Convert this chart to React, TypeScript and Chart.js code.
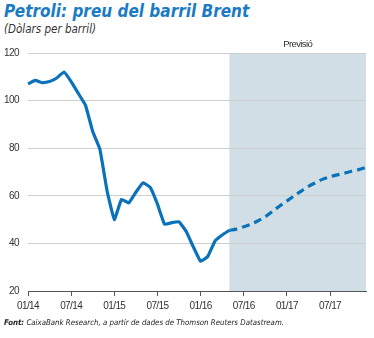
import React, { useEffect, useRef } from "react";
import { Chart, registerables } from "chart.js";

Chart.register(...registerables);

const months = [
  "01/14", "02/14", "03/14", "04/14", "05/14", "06/14", "07/14", "08/14", "09/14", "10/14", "11/14", "12/14",
  "01/15", "02/15", "03/15", "04/15", "05/15", "06/15", "07/15", "08/15", "09/15", "10/15", "11/15", "12/15",
  "01/16", "02/16", "03/16", "04/16", "05/16", "06/16", "07/16", "08/16", "09/16", "10/16", "11/16", "12/16",
  "01/17", "02/17", "03/17", "04/17", "05/17", "06/17", "07/17", "08/17", "09/17", "10/17", "11/17", "12/17",
];

const actualValues = [
  107, 108.5, 107.5, 108, 109.5, 112, 108, 103, 98, 87, 79.5, 62,
  50, 58.5, 57, 61.5, 65.5, 63.5, 56.5, 48, 48.7, 49, 45, 38.5,
  32.5, 34.5, 41, 43.5, 45.5,
];

const forecastStart = "05/16";
const forecastValues = [
  45.5, 46, 47, 48, 49.5, 51.2, 53.5, 55.7,
  57.8, 60, 62, 64, 65.5, 67, 68, 68.8, 69.5, 70.3, 71, 72,
];

const yTicks = [20, 40, 60, 80, 100, 120];
const xTickLabels = ["01/14", "07/14", "01/15", "07/15", "01/16", "07/16", "01/17", "07/17"];

const title = "Petroli: preu del barril Brent";
const subtitle = "(Dòlars per barril)";
const forecastLabel = "Previsió";
const sourceBold = "Font:";
const sourceText = " CaixaBank Research, a partir de dades de Thomson Reuters Datastream.";

const COND = '"DejaVu Sans Condensed", "Liberation Sans", sans-serif';
const AXIS = '"Liberation Sans", Arial, sans-serif';
const BLUE = "#0a72ba";

export default function App() {
  const ref = useRef<HTMLCanvasElement | null>(null);

  useEffect(() => {
    if (!ref.current) return;
    const startIdx = months.indexOf(forecastStart);
    const actual = months.map((_, i) => (i < actualValues.length ? actualValues[i] : null));
    const forecast = months.map((_, i) => (i >= startIdx ? forecastValues[i - startIdx] : null));

    const shade = {
      id: "shade",
      beforeDraw(chart: any) {
        const { ctx, chartArea, scales } = chart;
        try {
          ctx.letterSpacing = "-0.6px";
        } catch (e) {}
        const x0 = scales.x.getPixelForValue(startIdx);
        ctx.save();
        ctx.fillStyle = "#d1dee6";
        ctx.fillRect(x0, chartArea.top, chartArea.right - x0, chartArea.bottom - chartArea.top);
        ctx.fillStyle = "#333333";
        ctx.font = `9.5px ${AXIS}`;
        ctx.textAlign = "center";
        ctx.textBaseline = "alphabetic";
        ctx.fillText(forecastLabel, (x0 + chartArea.right) / 2, chartArea.top - 6);
        ctx.restore();
      },
    };

    const chart = new Chart(ref.current, {
      type: "line",
      data: {
        labels: months,
        datasets: [
          {
            data: actual,
            borderColor: BLUE,
            borderWidth: 3.2,
            pointRadius: 0,
            tension: 0.1,
            fill: false,
          },
          {
            data: forecast,
            borderColor: BLUE,
            borderWidth: 3.2,
            borderDash: [8, 5],
            pointRadius: 0,
            tension: 0.3,
            fill: false,
          },
        ],
      },
      options: {
        animation: false,
        responsive: false,
        layout: { padding: { top: 53, right: 8, bottom: 25, left: 0 } },
        plugins: { legend: { display: false }, tooltip: { enabled: false } },
        scales: {
          x: {
            type: "category",
            offset: false,
            afterFit(scale: any) {
              scale.height = 22;
            },
            grid: {
              drawOnChartArea: false,
              drawTicks: true,
              tickLength: 5,
              color: "#555555",
            },
            border: { display: true, color: "#555555", width: 1 },
            ticks: {
              autoSkip: false,
              maxRotation: 0,
              padding: 4,
              color: "#333333",
              font: { family: AXIS, size: 10 },
              callback: (_v: any, i: number) => (xTickLabels.includes(months[i]) ? months[i] : null),
            },
          },
          y: {
            min: yTicks[0],
            max: yTicks[yTicks.length - 1],
            afterFit(scale: any) {
              scale.width = 28;
            },
            afterBuildTicks(scale: any) {
              scale.ticks = yTicks.map((v) => ({ value: v }));
            },
            grid: { color: "#cfcfcf", drawTicks: false, lineWidth: 1 },
            border: { display: false },
            ticks: {
              padding: 9,
              color: "#333333",
              font: { family: AXIS, size: 10 },
            },
          },
        },
      },
      plugins: [shade],
    });
    return () => chart.destroy();
  }, []);

  return (
    <div style={{ position: "fixed", left: 0, top: 0, width: 374, height: 338, background: "#fff", overflow: "hidden" }}>
      <div
        style={{
          position: "absolute", left: 4, top: 1, fontFamily: COND, fontWeight: "bold", fontStyle: "italic",
          fontSize: 17, lineHeight: "20px", color: "#1b7bc3", whiteSpace: "nowrap",
        }}
      >
        {title}
      </div>
      <div
        style={{
          position: "absolute", left: 4, top: 22, fontFamily: COND, fontStyle: "italic",
          fontSize: 11.5, lineHeight: "15px", color: "#333333", whiteSpace: "nowrap",
        }}
      >
        {subtitle}
      </div>
      <canvas ref={ref} width={374} height={338} style={{ position: "absolute", left: 0, top: 0 }} />
      <div
        style={{
          position: "absolute", left: 4, top: 317, fontFamily: COND, fontStyle: "italic",
          fontSize: 7.8, lineHeight: "11px", color: "#222222", whiteSpace: "nowrap",
        }}
      >
        <b>{sourceBold}</b>
        {sourceText}
      </div>
    </div>
  );
}
